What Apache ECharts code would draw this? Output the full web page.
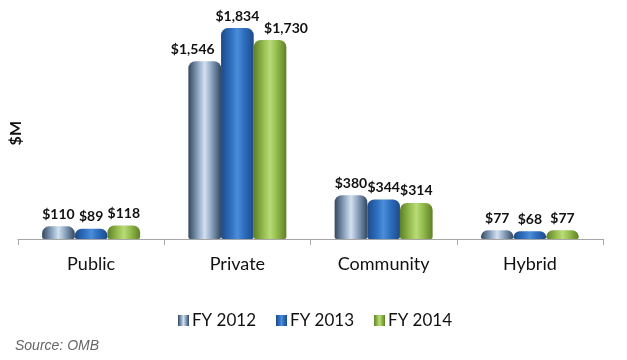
<!DOCTYPE html>
<html><head><meta charset="utf-8">
<script src="https://cdn.jsdelivr.net/npm/echarts@6/dist/echarts.min.js"></script>
<style>html,body{margin:0;padding:0;background:#fff}#c{width:627px;height:360px}</style>
</head><body><div id="c"></div>
<script>
const categories = ['Public', 'Private', 'Community', 'Hybrid'];
const seriesNames = ['FY 2012', 'FY 2013', 'FY 2014'];
const fy2012 = [110, 1546, 380, 77];
const fy2013 = [89, 1834, 344, 68];
const fy2014 = [118, 1730, 314, 77];
const values = [fy2012, fy2013, fy2014];

function grad(edge, mid, light) {
  return new echarts.graphic.LinearGradient(0, 0, 1, 0, [
    {offset: 0, color: edge},
    {offset: 0.3, color: mid},
    {offset: 0.5, color: light},
    {offset: 0.7, color: mid},
    {offset: 1, color: edge}
  ]);
}
const fills = [
  grad('#33475e', '#8ea6c2', '#d3e0ef'),
  grad('#1d4a86', '#2e6fc0', '#4b8ed8'),
  grad('#5f7f26', '#94bd4e', '#b9db78')
];
const fmt = v => '$' + v.toLocaleString('en-US');
const font = 'Lato, "Open Sans", sans-serif';

const chart = echarts.init(document.getElementById('c'));
chart.setOption({
  animation: false,
  grid: {left: 18, right: 24, top: 9, bottom: 121},
  xAxis: {
    type: 'category', data: categories,
    axisLine: {lineStyle: {color: '#a6a6a6', width: 1}},
    axisTick: {show: true, length: 6, lineStyle: {color: '#a6a6a6'}},
    axisLabel: {color: '#111', fontSize: 18, fontFamily: font, margin: 16}
  },
  yAxis: {
    type: 'value', min: 0, max: 2000, show: false,
    splitLine: {show: false}
  },
  legend: {
    data: seriesNames, left: 173, top: 307,
    itemWidth: 11, itemHeight: 11, itemGap: 20,
    icon: 'rect',
    textStyle: {color: '#111', fontSize: 17, fontFamily: font, padding: [0,0,0,-2]}
  },
  graphic: [
    {type: 'text', left: 8, top: 121, rotation: Math.PI / 2,
     style: {text: '$M', font: 'bold 16px ' + font, fill: '#111'}},
    {type: 'text', left: 15, top: 339,
     style: {text: 'Source: OMB', font: 'italic 14px "Liberation Sans", Arial, sans-serif', fill: '#666'}}
  ],
  series: values.map((d, i) => ({
    name: seriesNames[i], type: 'bar',
    data: d.map((v, j) => {
      const o = {value: v};
      if (j === 1 && i === 0) o.label = {offset: [-12, 0]};
      if (j === 1 && i === 2) o.label = {offset: [16, 0]};
      return o;
    }),
    barGap: '0%', barCategoryGap: '33%',
    itemStyle: {color: fills[i], borderRadius: [7, 7, 2, 2]},
    label: {
      show: true, position: 'top', distance: 5,
      formatter: p => fmt(p.value),
      color: '#111', fontWeight: 'bold', fontSize: 14,
      fontFamily: font
    }
  }))
});
</script></body></html>
